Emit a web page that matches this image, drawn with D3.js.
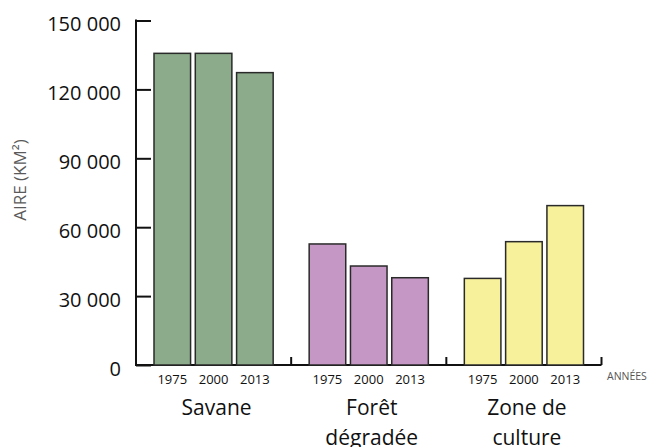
<!DOCTYPE html>
<html>
<head>
<meta charset="utf-8">
<script src="https://cdn.jsdelivr.net/npm/d3@7"></script>
<style>
  html, body { margin: 0; padding: 0; background: #fff; }
  svg { display: block; }
  text { font-family: "Open Sans", "Noto Sans", sans-serif; }
</style>
</head>
<body>
<svg id="chart" width="652" height="447"></svg>
<script>
const categories = ["Savane", "Forêt dégradée", "Zone de culture"];
const categoryLines = [["Savane"], ["Forêt", "dégradée"], ["Zone de", "culture"]];
const years = ["1975", "2000", "2013"];
const savane = [135700, 135700, 127300];
const foretDegradee = [52700, 43100, 38000];
const zoneCulture = [37700, 53700, 69400];
const yTicks = [0, 30000, 60000, 90000, 120000, 150000];
const colors = ["#8bab8b", "#c497c5", "#f8f19b"];

const seriesByCategory = [savane, foretDegradee, zoneCulture];

const svg = d3.select("#chart");
const mLeft = 136, mRight = 601.5, mTop = 20.5, mBottom = 365;

const x0 = d3.scaleBand().domain(categories).range([mLeft, mRight]).paddingInner(0).paddingOuter(0);
const x1 = d3.scaleBand().domain(years).range([17.5, x0.bandwidth() - 17.5]).paddingInner(0.09).paddingOuter(0);
const y = d3.scaleLinear().domain([0, 150000]).range([mBottom, mTop]);

const fmt = v => d3.format(",")(v).replace(/,/g, " ");

// Y axis
const yAxis = d3.axisLeft(y).tickValues(yTicks).tickSize(-15).tickPadding(15).tickFormat(fmt);
const gy = svg.append("g").attr("transform", `translate(${mLeft},0)`).call(yAxis);
gy.select(".domain").remove();
gy.append("line").attr("x1", 0).attr("x2", 0).attr("y1", y(150000) - 1).attr("y2", y(0) + 1)
  .attr("stroke", "#111").attr("stroke-width", 2);
gy.selectAll(".tick line").attr("stroke", "#111").attr("stroke-width", 2);
gy.selectAll(".tick text").attr("fill", "#111").style("font-size", "20px")
  .style("font-family", "'Open Sans', sans-serif").attr("dy", "0.52em");

// X axis baseline with separator ticks
const gx = svg.append("g");
gx.append("line").attr("x1", mLeft).attr("x2", mRight).attr("y1", mBottom).attr("y2", mBottom)
  .attr("stroke", "#111").attr("stroke-width", 2);
const seps = categories.map(c => x0(c) + x0.bandwidth());
gx.selectAll(".sep").data(seps).join("line").attr("class", "sep")
  .attr("x1", d => d).attr("x2", d => d).attr("y1", mBottom).attr("y2", mBottom - 8)
  .attr("stroke", "#111").attr("stroke-width", 2);

// Bars
const groups = svg.append("g").selectAll("g.grp").data(categories).join("g")
  .attr("class", "grp").attr("transform", c => `translate(${x0(c)},0)`);
groups.selectAll("rect").data((c, i) => years.map((yr, j) => ({ yr, v: seriesByCategory[i][j], i })))
  .join("rect")
  .attr("x", d => x1(d.yr) + 0.5)
  .attr("y", d => y(d.v))
  .attr("width", x1.bandwidth() - 1)
  .attr("height", d => y(0) - y(d.v))
  .attr("fill", d => colors[d.i])
  .attr("stroke", "#2a2a2a")
  .attr("stroke-width", 1.5);

// Year labels
groups.selectAll("text.yr").data(years).join("text").attr("class", "yr")
  .attr("x", d => x1(d) + x1.bandwidth() / 2)
  .attr("y", 384)
  .attr("text-anchor", "middle")
  .attr("fill", "#111")
  .style("font-size", "13px")
  .text(d => d);

// Category labels
groups.each(function (c, i) {
  const g = d3.select(this);
  categoryLines[i].forEach((line, k) => {
    g.append("text")
      .attr("x", x0.bandwidth() / 2 + 3)
      .attr("y", 415 + k * 30)
      .attr("text-anchor", "middle")
      .attr("fill", "#111")
      .style("font-size", "21px")
      .text(line);
  });
});

// Axis titles
svg.append("text")
  .attr("transform", "translate(26,180) rotate(-90)")
  .attr("text-anchor", "middle")
  .attr("fill", "#5a5a5a")
  .style("font-size", "17px")
  .text("AIRE (KM²)");

svg.append("text")
  .attr("x", 607).attr("y", 380)
  .attr("fill", "#555")
  .style("font-size", "10.5px")
  .text("ANNÉES");
</script>
</body>
</html>
